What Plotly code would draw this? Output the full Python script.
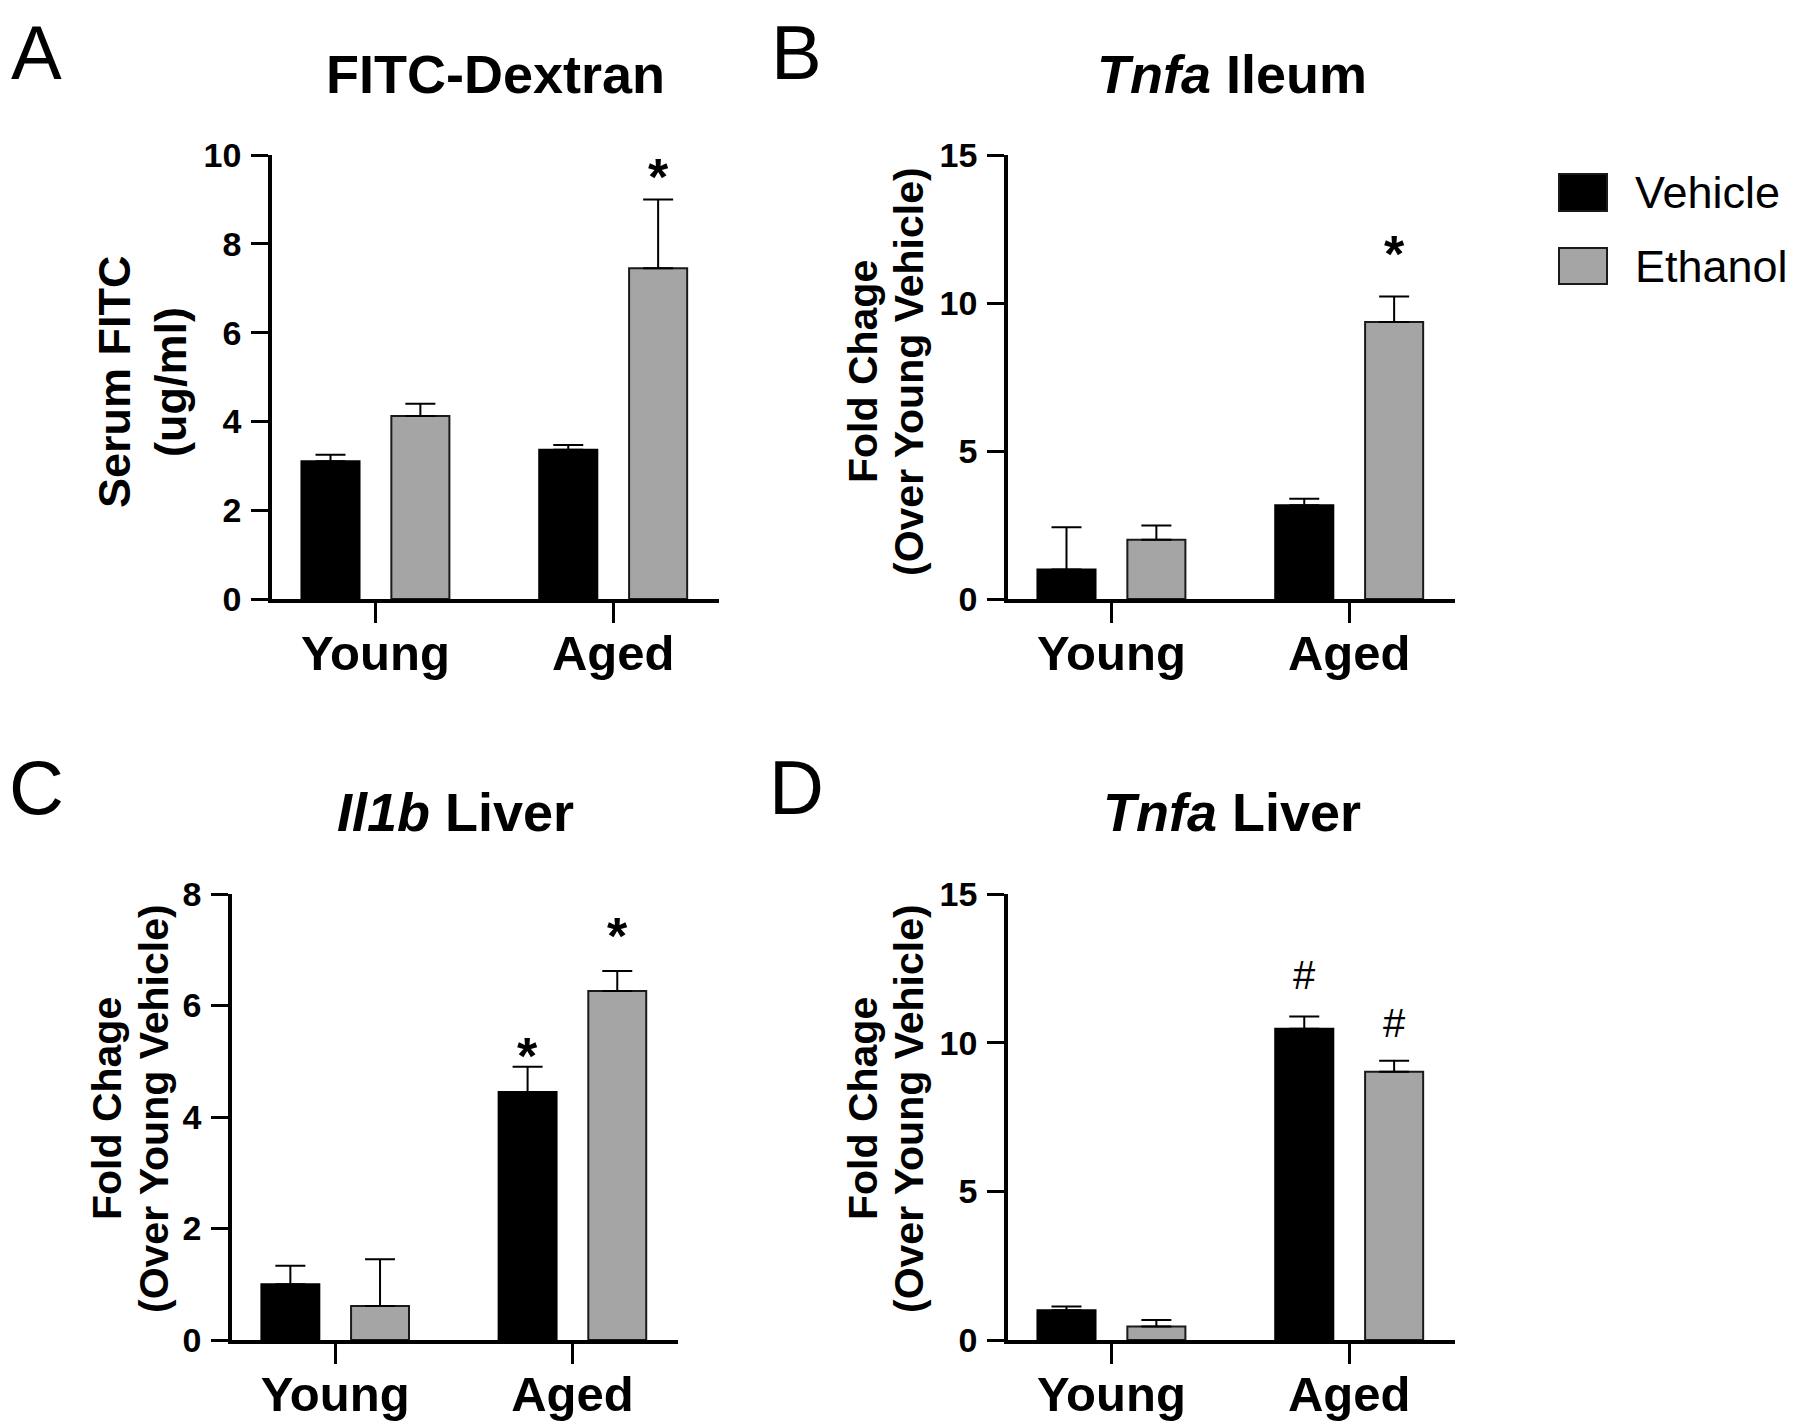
import plotly.graph_objects as go

# ---------------- data ----------------
categories = ["Young", "Aged"]
groups = ["Vehicle", "Ethanol"]

# Panel A: FITC-Dextran (Serum FITC, ug/ml)
a_vehicle = [3.10, 3.36]
a_vehicle_sem = [0.15, 0.11]
a_ethanol = [4.12, 7.45]
a_ethanol_sem = [0.28, 1.55]

# Panel B: Tnfa Ileum (fold change)
b_vehicle = [1.00, 3.17]
b_vehicle_sem = [1.42, 0.22]
b_ethanol = [2.00, 9.36]
b_ethanol_sem = [0.48, 0.86]

# Panel C: Il1b Liver (fold change)
c_vehicle = [1.00, 4.45]
c_vehicle_sem = [0.33, 0.45]
c_ethanol = [0.61, 6.26]
c_ethanol_sem = [0.84, 0.36]

# Panel D: Tnfa Liver (fold change)
d_vehicle = [1.00, 10.47]
d_vehicle_sem = [0.13, 0.41]
d_ethanol = [0.45, 9.02]
d_ethanol_sem = [0.22, 0.37]

# significance marks: (category, group, symbol, y-level)
a_marks = [("Aged", "Ethanol", "*", 9.6)]
b_marks = [("Aged", "Ethanol", "*", 11.8)]
c_marks = [("Aged", "Vehicle", "*", 5.17), ("Aged", "Ethanol", "*", 7.32)]
d_marks = [("Aged", "Vehicle", "#", 12.26), ("Aged", "Ethanol", "#", 10.67)]

# ---------------- layout helpers ----------------
W, H = 1800, 1425
PAGE_OFF = 8  # default body margin of the html page
FONT = "Arial, 'Liberation Sans', sans-serif"
VEH_COLOR = "#000000"
ETH_COLOR = "#A5A5A5"
BARGAP = 0.244
BARGROUPGAP = 0.354
GROUP_OFFSET = (1 - BARGAP) / 4


def px_x(p):
    return (p - PAGE_OFF) / W


def px_y(p):
    return 1 - (p - PAGE_OFF) / H


panels = [
    dict(name="A", title="<b>FITC-Dextran</b>", veh=a_vehicle, veh_sem=a_vehicle_sem,
         eth=a_ethanol, eth_sem=a_ethanol_sem, ymax=10, dtick=2, marks=a_marks,
         box=(272, 719, 155, 599),
         ytitle=[("<b>Serum FITC</b>", 115), ("<b>(ug/ml)</b>", 171)], ytfont=45, ytcy=382,
         title_y=74, letter=(36, None)),
    dict(name="B", title="<b><i>Tnfa</i> Ileum</b>", veh=b_vehicle, veh_sem=b_vehicle_sem,
         eth=b_ethanol, eth_sem=b_ethanol_sem, ymax=15, dtick=5, marks=b_marks,
         box=(1008, 1455, 155, 599),
         ytitle=[("<b>Fold Chage</b>", 863), ("<b>(Over Young Vehicle)</b>", 909)], ytfont=41, ytcy=372,
         title_y=74, letter=(796, None)),
    dict(name="C", title="<b><i>Il1b</i> Liver</b>", veh=c_vehicle, veh_sem=c_vehicle_sem,
         eth=c_ethanol, eth_sem=c_ethanol_sem, ymax=8, dtick=2, marks=c_marks,
         box=(232, 678, 894, 1340),
         ytitle=[("<b>Fold Chage</b>", 107), ("<b>(Over Young Vehicle)</b>", 154)], ytfont=41, ytcy=1109,
         title_y=812, letter=(36, 787)),
    dict(name="D", title="<b><i>Tnfa</i> Liver</b>", veh=d_vehicle, veh_sem=d_vehicle_sem,
         eth=d_ethanol, eth_sem=d_ethanol_sem, ymax=15, dtick=5, marks=d_marks,
         box=(1008, 1455, 894, 1340),
         ytitle=[("<b>Fold Chage</b>", 863), ("<b>(Over Young Vehicle)</b>", 909)], ytfont=41, ytcy=1109,
         title_y=812, letter=(796, 787)),
]

fig = go.Figure()
annotations = []
shapes = []
layout_axes = {}

for i, p in enumerate(panels):
    n = "" if i == 0 else str(i + 1)
    xref, yref = "x" + n, "y" + n
    for gname, vals, sems, color in [("Vehicle", p["veh"], p["veh_sem"], VEH_COLOR),
                                     ("Ethanol", p["eth"], p["eth_sem"], ETH_COLOR)]:
        fig.add_trace(go.Bar(
            x=categories, y=vals, name=gname, xaxis=xref, yaxis=yref,
            marker=dict(color=color, line=dict(color="#1a1a1a" if gname == "Ethanol" else "#000000", width=2)),
            error_y=dict(type="data", array=sems, arrayminus=[0] * len(sems), symmetric=False,
                         color="#000000", thickness=2, width=15),
            showlegend=False,
        ))
    x0, x1, y0, y1 = p["box"]
    layout_axes["xaxis" + n] = dict(
        domain=[px_x(x0), px_x(x1)], anchor=yref, type="category", automargin=False,
        range=[-0.435, 1.445], showline=True, linecolor="black", linewidth=3.5,
        ticks="outside", ticklen=20, tickwidth=3, tickcolor="black",
        tickfont=dict(family=FONT, size=49, color="black"),
        tickprefix="<b>", ticksuffix="</b>", ticklabelstandoff=-12,
        showgrid=False, zeroline=False, fixedrange=True,
    )
    layout_axes["yaxis" + n] = dict(
        domain=[px_y(y1), px_y(y0)], anchor=xref, range=[0, p["ymax"]], automargin=False,
        dtick=p["dtick"], tick0=0, showline=True, linecolor="black", linewidth=3.5,
        ticks="outside", ticklen=17, tickwidth=3, tickcolor="black",
        tickfont=dict(family=FONT, size=34, color="black"),
        tickprefix="<b>", ticksuffix="</b>", ticklabelstandoff=3,
        showgrid=False, zeroline=False, fixedrange=True,
    )
    # panel title
    annotations.append(dict(
        text=p["title"], x=px_x((x0 + x1) / 2), y=px_y(p["title_y"]), xref="paper", yref="paper",
        xanchor="center", yanchor="middle", showarrow=False,
        font=dict(family=FONT, size=54, color="black")))
    # panel letter
    lx, ly = p["letter"]
    if ly is None:
        annotations.append(dict(
            text=p["name"], x=px_x(lx), y=1.0, xref="paper", yref="paper",
            xanchor="center", yanchor="top", showarrow=False,
            font=dict(family=FONT, size=76, color="black")))
    else:
        annotations.append(dict(
            text=p["name"], x=px_x(lx), y=px_y(ly), xref="paper", yref="paper",
            xanchor="center", yanchor="middle", showarrow=False,
            font=dict(family=FONT, size=76, color="black")))
    # y-axis title lines
    for txt, cx in p["ytitle"]:
        annotations.append(dict(
            text=txt, x=px_x(cx), y=px_y(p["ytcy"]), xref="paper", yref="paper",
            xanchor="center", yanchor="middle", showarrow=False, textangle=-90,
            font=dict(family=FONT, size=p["ytfont"], color="black")))
    # significance marks
    for cat, grp, sym, yv in p["marks"]:
        xpos = categories.index(cat) + (-GROUP_OFFSET if grp == "Vehicle" else GROUP_OFFSET)
        if sym == "*":
            font = dict(family=FONT, size=52, color="black")
            txt, shift = "<b>*</b>", -4
        else:
            font = dict(family=FONT, size=40, color="black")
            txt, shift = sym, 0
        annotations.append(dict(
            text=txt, x=xpos, y=yv, xref=xref, yref=yref, xanchor="center", yanchor="middle",
            yshift=shift, showarrow=False, font=font))

# legend (drawn manually to match large swatches)
legend_items = [("Vehicle", VEH_COLOR, 174, 211), ("Ethanol", ETH_COLOR, 248, 284)]
for label, color, ty, by in legend_items:
    shapes.append(dict(type="rect", xref="paper", yref="paper",
                       x0=px_x(1559), x1=px_x(1607), y0=px_y(by), y1=px_y(ty),
                       fillcolor=color, line=dict(color="#1a1a1a", width=2)))
    annotations.append(dict(
        text=label, x=px_x(1633), y=px_y((ty + by) / 2), xref="paper", yref="paper",
        xanchor="left", yanchor="middle", showarrow=False,
        font=dict(family=FONT, size=45, color="black")))

fig.update_layout(
    template="none",
    width=W, height=H, margin=dict(l=0, r=0, t=0, b=0, autoexpand=False),
    paper_bgcolor="white", plot_bgcolor="white",
    barmode="group", bargap=BARGAP, bargroupgap=BARGROUPGAP,
    showlegend=False, annotations=annotations, shapes=shapes,
    font=dict(family=FONT, color="black"),
    **layout_axes,
)

fig.write_html("out.html")
